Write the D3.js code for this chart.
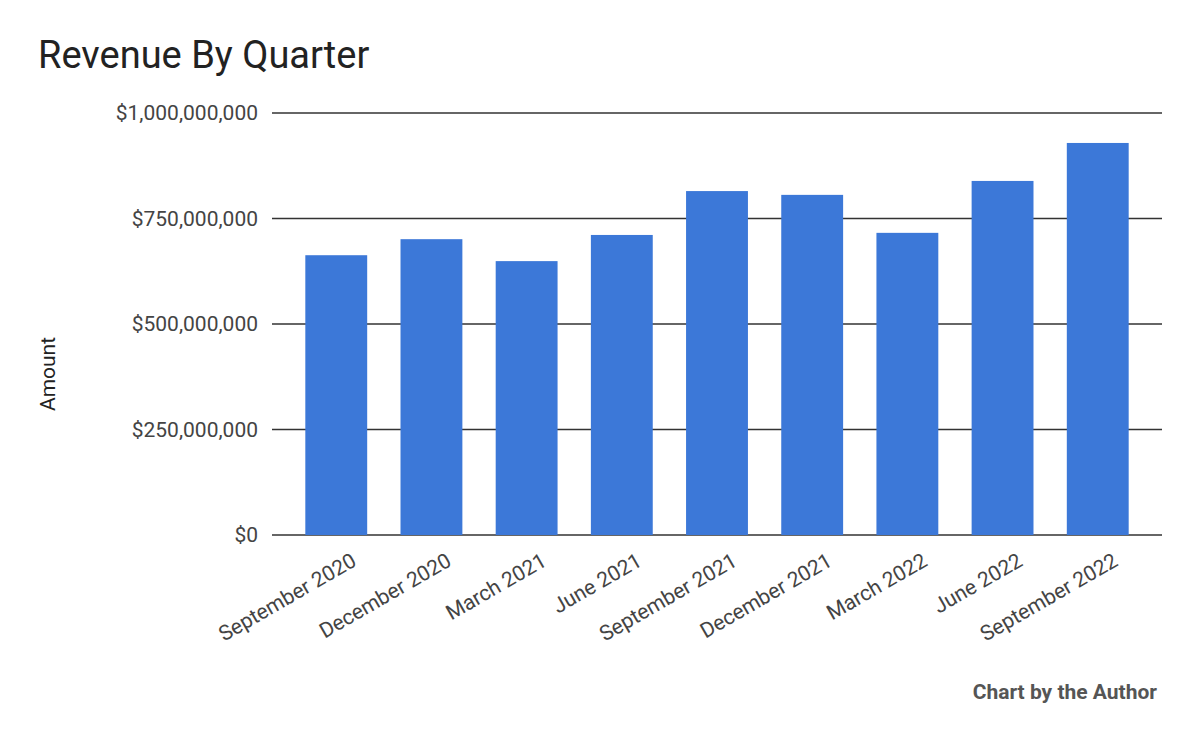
<!DOCTYPE html>
<html lang="en">
<head>
<meta charset="UTF-8">
<title>Revenue By Quarter</title>
<script src="https://d3js.org/d3.v7.min.js"></script>
<style>
  body { margin: 0; background: #fff; }
  text { font-family: Roboto, sans-serif; fill: #222; }
</style>
</head>
<body>
<svg id="chart" width="1200" height="742"></svg>
<script>
var quarters = ["September 2020", "December 2020", "March 2021", "June 2021", "September 2021",
                "December 2021", "March 2022", "June 2022", "September 2022"];
var revenue = [663e6, 701e6, 649e6, 711e6, 815e6, 806e6, 716e6, 839e6, 929e6];
var yTicks = [0, 250e6, 500e6, 750e6, 1000e6];

var svg = d3.select("#chart");

var x = d3.scaleBand().domain(quarters).range([272, 1162]).paddingInner(0.35).paddingOuter(0.35);
var y = d3.scaleLinear().domain([0, 1e9]).range([535, 113]);

// gridlines + y labels
svg.append("g").selectAll("line").data(yTicks).enter().append("line")
  .attr("x1", 272).attr("x2", 1162)
  .attr("y1", d => y(d)).attr("y2", d => y(d))
  .attr("stroke", "#333").attr("stroke-width", 1.3);

svg.append("g").selectAll("text").data(yTicks).enter().append("text")
  .attr("x", 258).attr("y", d => y(d)).attr("dy", "0.35em")
  .attr("text-anchor", "end").style("font-size", "21px").style("fill", "#444")
  .text(d => "$" + d3.format(",")(d));

// bars
svg.append("g").selectAll("rect").data(revenue).enter().append("rect")
  .attr("x", (d, i) => x(quarters[i]))
  .attr("width", x.bandwidth())
  .attr("y", d => y(d))
  .attr("height", d => y(0) - y(d))
  .attr("fill", "#3c78d8");

// x labels
svg.append("g").selectAll("text").data(quarters).enter().append("text")
  .attr("transform", d => "translate(" + (x(d) + x.bandwidth() / 2 + 14) + ",552) rotate(-30)")
  .attr("text-anchor", "end").attr("dy", "0.7em")
  .style("font-size", "21px").style("fill", "#444")
  .text(d => d);

// axis title
svg.append("text").attr("transform", "translate(55,374) rotate(-90)")
  .attr("text-anchor", "middle").style("font-size", "21px").text("Amount");

// title
svg.append("text").attr("x", 38).attr("y", 68).style("font-size", "38px").text("Revenue By Quarter");

// footer
svg.append("text").attr("x", 1157).attr("y", 699).attr("text-anchor", "end")
  .style("font-size", "21px").style("font-weight", "bold").style("fill", "#555")
  .text("Chart by the Author");
</script>
</body>
</html>
